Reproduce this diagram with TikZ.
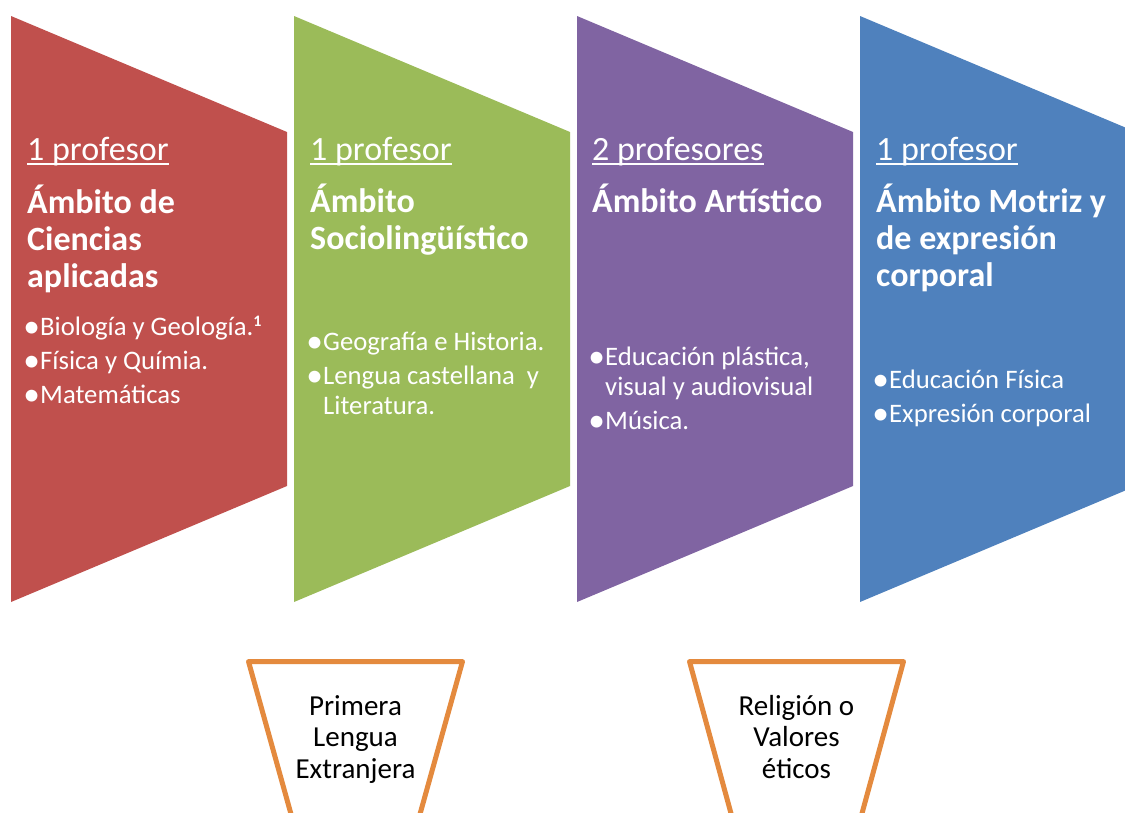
\documentclass[tikz,border=0pt]{standalone}
\usepackage{fontspec}
\setmainfont{Carlito}
\definecolor{ciencias}{HTML}{C0504D}
\definecolor{socio}{HTML}{9BBB59}
\definecolor{artistico}{HTML}{8064A2}
\definecolor{motriz}{HTML}{4F81BD}
\definecolor{borde}{HTML}{E48A3E}
\newcommand\itm{\makebox[13pt][l]{\makebox[9pt][c]{\raisebox{-0.08em}{\scalebox{1.25}{\textbullet}}}}}
\newcommand\itmgap{\hspace*{13pt}}
\newcommand\nota{\raisebox{9pt}{\fontsize{16}{16}\selectfont\bfseries 1}}
\begin{document}
\begin{tikzpicture}
	[x=1pt,y=-1pt,
	prof/.style={anchor=base west,inner sep=0pt,text=white,font=\fontsize{34}{40}\selectfont},
	area/.style={anchor=base west,inner sep=0pt,text=white,align=left,font=\fontsize{34}{37}\selectfont\bfseries},
	items/.style={anchor=base west,inner sep=0pt,text=white,align=left,font=\fontsize{26.7}{30}\selectfont},
	subr/.style={white,line width=2pt},
	trap/.style={draw=borde,line width=5pt,line join=round,fill=white},
	extra/.style={anchor=base,inner sep=0pt,align=center,font=\fontsize{29}{31.5}\selectfont}]
	\useasboundingbox (0,0) rectangle (1125,812);
	\clip (0,0) rectangle (1125,812);
	% columnas
	\fill[ciencias](11,16) -- (287,132) -- (287,486) -- (11,602) -- cycle;
	\fill[socio](294,16) -- (570,132) -- (570,486) -- (294,602) -- cycle;
	\fill[artistico](577,16) -- (853,132) -- (853,486) -- (577,602) -- cycle;
	\fill[motriz](860,16) -- (1136,132) -- (1136,486) -- (860,602) -- cycle;
	\node[prof,name=p1]at(27,160){1 profesor};
	\node[prof,name=p2]at(310,160){1 profesor};
	\node[prof,name=p3]at(592,160){2 profesores};
	\node[prof,name=p4]at(876,160){1 profesor};
	\foreach \p in {p1,p2,p3,p4}
		\draw[subr]([yshift=-4pt]\p.base west) -- ([yshift=-4pt]\p.base east);
	% base = last line
	\node[area,name=a1]at(27,287){Ámbito de\\Ciencias\\aplicadas};
	\node[area,name=a2]at(310,249){Ámbito\\Sociolingüístico};
	\node[area,name=a3]at(592,212){Ámbito Artístico};
	\node[area,name=a4]at(876,286){Ámbito Motriz y\\de expresión\\corporal};
	\node[items,name=l1]at(27,403){\itm Biología y Geología.\nota\\[4pt]\itm Física y Químia.\\[4pt]\itm Matemáticas};
	\node[items,name=l2]at(310,414){\itm Geografía e Historia.\\[4pt]\itm Lengua castellana~~y\\\itmgap Literatura.};
	\node[items,name=l3]at(592,429){\itm Educación plástica,\\\itmgap visual y audiovisual\\[4pt]\itm Música.};
	\node[items,name=l4]at(876,422){\itm Educación Física\\[4pt]\itm Expresión corporal};
	% optativas
	\draw[trap](248.5,661.5) -- (462.5,661.5) -- (410,850) -- (301,850) -- cycle;
	\draw[trap](689.5,661.5) -- (903.5,661.5) -- (852,850) -- (741,850) -- cycle;
	\node[extra,name=e1]at(355.5,778){Primera\\Lengua\\Extranjera};
	\node[extra,name=e2]at(796.5,778){Religión o\\Valores\\éticos};
\end{tikzpicture}
\end{document}
